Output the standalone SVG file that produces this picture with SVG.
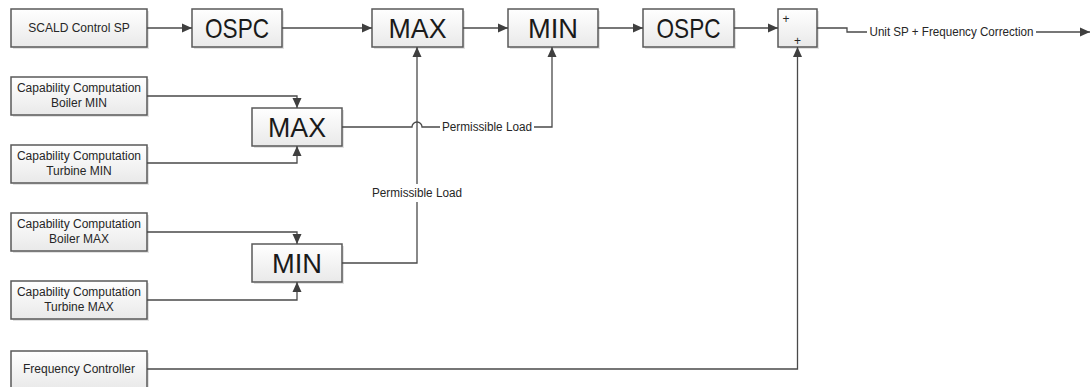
<svg xmlns="http://www.w3.org/2000/svg" width="1091" height="387" viewBox="0 0 1091 387">
<style>
.box{fill:url(#g);stroke:#595959;stroke-width:1.5}
.sh{fill:#cfcfcf;opacity:.6}
.big{font-family:"Liberation Sans",Arial,sans-serif;font-size:28px;fill:#1a1a1a;text-anchor:middle}
.sm{font-family:"Liberation Sans",Arial,sans-serif;font-size:12px;fill:#262626;text-anchor:middle}
.ln{fill:none;stroke:#4a4a4a;stroke-width:1.3}
.ar{marker-end:url(#a)}
</style>
<defs>
<linearGradient id="g" x1="0" y1="0" x2="0" y2="1">
<stop offset="0" stop-color="#ffffff"/>
<stop offset="1" stop-color="#e9e9e9"/>
</linearGradient>
<marker id="a" markerWidth="11" markerHeight="11" refX="10" refY="5.5" orient="auto" markerUnits="userSpaceOnUse">
<path d="M0,1 L10,5.5 L0,10 Z" fill="#3f3f3f"/>
</marker>
</defs>
<rect width="1091" height="387" fill="#ffffff"/>

<g id="scald">
<rect class="sh" x="13" y="11" width="136" height="38"/>
<rect class="box" x="11" y="9" width="136" height="38"/>
<text class="sm" x="79" y="32">SCALD Control SP</text>
</g>
<g id="ospc1">
<rect class="sh" x="194" y="11" width="90" height="38"/>
<rect class="box" x="192" y="9" width="90" height="38"/>
<text class="big" x="237" y="38" textLength="64" lengthAdjust="spacingAndGlyphs">OSPC</text>
</g>
<g id="max-top">
<rect class="sh" x="374" y="11" width="91" height="38"/>
<rect class="box" x="372" y="9" width="91" height="38"/>
<text class="big" x="417.5" y="38" textLength="58" lengthAdjust="spacingAndGlyphs">MAX</text>
</g>
<g id="min-top">
<rect class="sh" x="510" y="11" width="90" height="38"/>
<rect class="box" x="508" y="9" width="90" height="38"/>
<text class="big" x="553" y="38" textLength="50" lengthAdjust="spacingAndGlyphs">MIN</text>
</g>
<g id="ospc2">
<rect class="sh" x="645" y="11" width="91" height="38"/>
<rect class="box" x="643" y="9" width="91" height="38"/>
<text class="big" x="688.5" y="38" textLength="64" lengthAdjust="spacingAndGlyphs">OSPC</text>
</g>
<g id="sum">
<rect class="sh" x="780" y="11" width="39" height="38"/>
<rect class="box" x="778" y="9" width="39" height="38"/>
<text class="sm" x="786" y="23">+</text>
<text class="sm" x="797.5" y="45">+</text>
</g>
<g id="boiler-min">
<rect class="sh" x="13" y="79" width="136" height="38"/>
<rect class="box" x="11" y="77" width="136" height="38"/>
<text class="sm" x="79" y="92">Capability Computation</text>
<text class="sm" x="79" y="107">Boiler MIN</text>
</g>
<g id="max-left">
<rect class="sh" x="254" y="110" width="90" height="38"/>
<rect class="box" x="252" y="108" width="90" height="38"/>
<text class="big" x="297" y="137" textLength="58" lengthAdjust="spacingAndGlyphs">MAX</text>
</g>
<g id="turbine-min">
<rect class="sh" x="13" y="147" width="136" height="38"/>
<rect class="box" x="11" y="145" width="136" height="38"/>
<text class="sm" x="79" y="160">Capability Computation</text>
<text class="sm" x="79" y="175">Turbine MIN</text>
</g>
<g id="boiler-max">
<rect class="sh" x="13" y="215" width="136" height="38"/>
<rect class="box" x="11" y="213" width="136" height="38"/>
<text class="sm" x="79" y="228">Capability Computation</text>
<text class="sm" x="79" y="243">Boiler MAX</text>
</g>
<g id="min-left">
<rect class="sh" x="254" y="246" width="90" height="38"/>
<rect class="box" x="252" y="244" width="90" height="38"/>
<text class="big" x="297" y="273" textLength="50" lengthAdjust="spacingAndGlyphs">MIN</text>
</g>
<g id="turbine-max">
<rect class="sh" x="13" y="283" width="136" height="38"/>
<rect class="box" x="11" y="281" width="136" height="38"/>
<text class="sm" x="79" y="296">Capability Computation</text>
<text class="sm" x="79" y="311">Turbine MAX</text>
</g>
<g id="freq">
<rect class="sh" x="13" y="353" width="136" height="38"/>
<rect class="box" x="11" y="351" width="136" height="38"/>
<text class="sm" x="79" y="373">Frequency Controller</text>
</g>

<g id="connectors">
<path class="ln ar" d="M147,28 H192"/>
<path class="ln ar" d="M282,28 H372"/>
<path class="ln ar" d="M463,28 H508"/>
<path class="ln ar" d="M598,28 H643"/>
<path class="ln ar" d="M734,28 H778"/>
<path class="ln" d="M817,28 H847 V32 H867"/>
<path class="ln ar" d="M1036,32 H1090"/>
<text class="sm" x="951.5" y="36" textLength="164" lengthAdjust="spacingAndGlyphs">Unit SP + Frequency Correction</text>
<path class="ln ar" d="M147,96 H297 V108"/>
<path class="ln ar" d="M147,163 H297 V146"/>
<path class="ln ar" d="M147,232 H297 V244"/>
<path class="ln ar" d="M147,300 H297 V282"/>
<path class="ln" d="M342,127 H412 A5,5 0 0 1 422,127 H440"/>
<path class="ln ar" d="M534,127 H552 V47"/>
<text class="sm" x="487" y="131" textLength="90" lengthAdjust="spacingAndGlyphs">Permissible Load</text>
<path class="ln" d="M342,263 H417 V202"/>
<path class="ln ar" d="M417,184 V47"/>
<text class="sm" x="417" y="197" textLength="90" lengthAdjust="spacingAndGlyphs">Permissible Load</text>
<path class="ln ar" d="M147,369 H797.5 V47"/>
</g>
</svg>
